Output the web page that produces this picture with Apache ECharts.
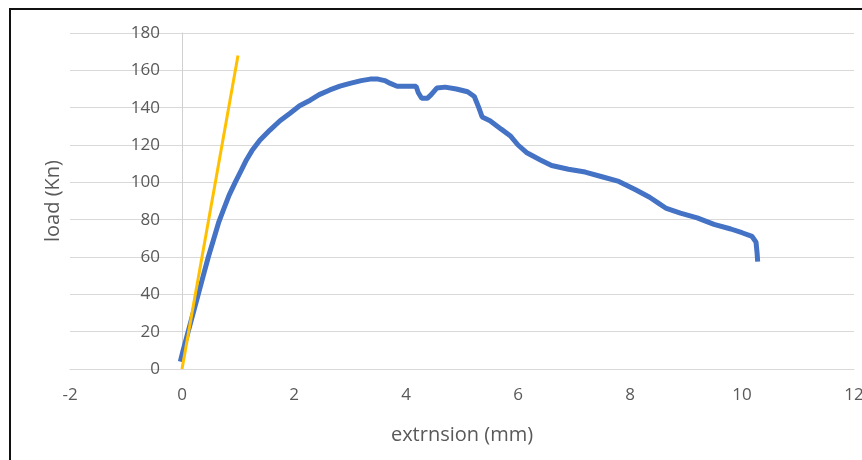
<!DOCTYPE html>
<html>
<head>
<meta charset="utf-8">
<script src="https://cdn.jsdelivr.net/npm/echarts@6/dist/echarts.min.js"></script>
<style>
  html, body { margin: 0; padding: 0; background: #fff; }
  #chart { width: 862px; height: 460px; }
</style>
</head>
<body>
<div id="chart"></div>
<script>
// extension (mm) vs load (kN)
const testCurve = [
    [-0.03, 4], [0.02, 10], [0.11, 20], [0.2, 30], [0.29, 40], [0.38, 50],
    [0.47, 60], [0.56, 69], [0.66, 79], [0.75, 86], [0.84, 93], [0.95, 100],
    [1.06, 106.5], [1.15, 112], [1.25, 117], [1.39, 122.5], [1.57, 128], [1.75, 133], [1.93, 137],
    [2.1, 141], [2.29, 144], [2.45, 147], [2.64, 149.5], [2.82, 151.5], [3.0, 153],
    [3.2, 154.5], [3.36, 155.3], [3.5, 155.3], [3.62, 154.5], [3.72, 153], [3.84, 151.5],
    [4.0, 151.5], [4.18, 151.5], [4.22, 148], [4.28, 145], [4.38, 145], [4.45, 147],
    [4.55, 150.5], [4.7, 151], [4.9, 150], [5.1, 148.5], [5.22, 146], [5.3, 140],
    [5.36, 135], [5.5, 133], [5.7, 128.5], [5.86, 125], [6.0, 120], [6.15, 116],
    [6.4, 112], [6.6, 109], [6.9, 107], [7.2, 105.5], [7.5, 103], [7.8, 100.5],
    [8.1, 96], [8.35, 92], [8.5, 89], [8.65, 86], [8.9, 83.5], [9.2, 81],
    [9.5, 77.5], [9.8, 75], [10.0, 73], [10.18, 71], [10.25, 68], [10.27, 62],
    [10.28, 57.5]
];
const elasticLine = [[0, 0], [1.0, 168]];

const xRange = [-2, 12, 2];
const yRange = [0, 180, 20];

const chart = echarts.init(document.getElementById("chart"));
const font = "'Open Sans', 'Noto Sans', sans-serif";

// y axis sits on x = 0, which is 2 units (112px) right of the grid's left edge
const yAxisShift = 112;

chart.setOption({
    animation: false,
    grid: { left: 70, right: 8, top: 33, bottom: 91, outerBoundsMode: "none" },
    graphic: [
        {
            type: "rect",
            shape: { x: 10, y: 9, width: 900, height: 500 },
            style: { fill: "none", stroke: "#111", lineWidth: 2 },
        },
    ],
    xAxis: {
        type: "value",
        min: xRange[0],
        max: xRange[1],
        interval: xRange[2],
        name: "extrnsion (mm)",
        nameLocation: "middle",
        nameGap: 56,
        nameTextStyle: { color: "#595959", fontSize: 20, fontFamily: font },
        axisLine: { show: true, onZero: true, lineStyle: { color: "#d9d9d9", width: 1 } },
        axisTick: { show: false },
        axisLabel: { color: "#595959", fontSize: 17, fontFamily: font, margin: 18 },
        splitLine: { show: false },
    },
    yAxis: {
        type: "value",
        min: yRange[0],
        max: yRange[1],
        interval: yRange[2],
        offset: -yAxisShift,
        name: "load (Kn)",
        nameLocation: "middle",
        nameGap: 119,
        nameTextStyle: { color: "#595959", fontSize: 20, fontFamily: font },
        axisLine: { show: true, onZero: false, lineStyle: { color: "#d0d0d0", width: 1 } },
        axisTick: { show: false },
        axisLabel: { color: "#595959", fontSize: 17, fontFamily: font, margin: 22 },
        splitLine: { show: true, lineStyle: { color: "#d9d9d9", width: 1 } },
    },
    series: [
        {
            type: "line",
            data: testCurve,
            showSymbol: false,
            lineStyle: { color: "#4472c4", width: 5 },
            z: 2,
        },
        {
            type: "line",
            data: elasticLine,
            showSymbol: false,
            lineStyle: { color: "#ffc000", width: 3 },
            z: 3,
        },
    ],
});
</script>
</body>
</html>
